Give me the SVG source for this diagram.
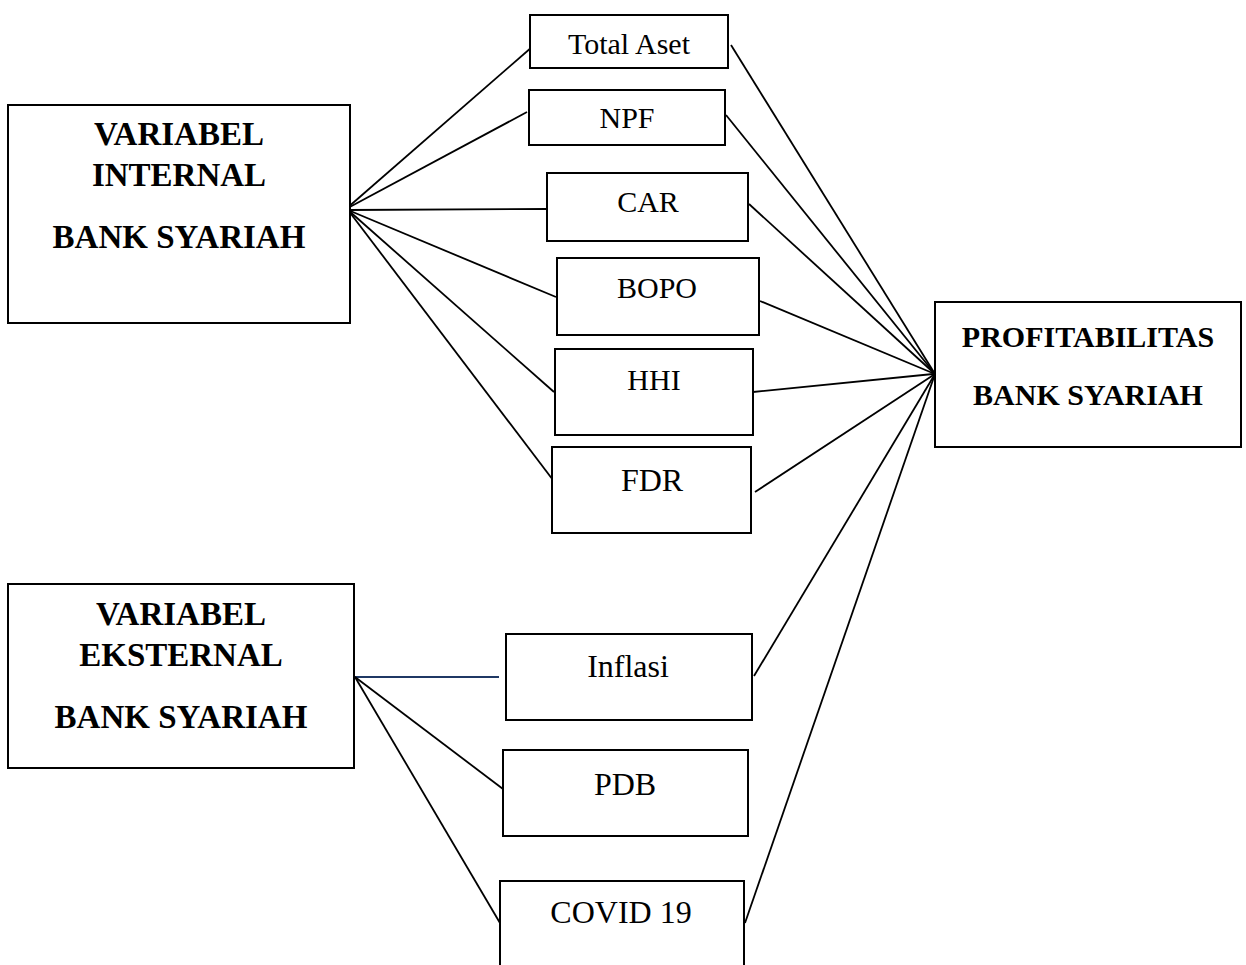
<svg xmlns="http://www.w3.org/2000/svg" width="1246" height="965" viewBox="0 0 1246 965">
<style>
.box{fill:#fff;stroke:#000;stroke-width:2}
.t{font-family:"Liberation Serif","Times New Roman",serif;fill:#000;text-anchor:middle}
.b{font-weight:bold}
.c{stroke:#000;stroke-width:1.8;fill:none}
</style>
<rect width="1246" height="965" fill="#fff"/>
<g id="connectors">
<line class="c" x1="346" y1="209" x2="532" y2="47"/>
<line class="c" x1="346" y1="209" x2="527" y2="112"/>
<line class="c" x1="348" y1="210" x2="547" y2="209"/>
<line class="c" x1="348" y1="210" x2="556" y2="297"/>
<line class="c" x1="348" y1="210" x2="554" y2="392"/>
<line class="c" x1="348" y1="210" x2="556" y2="484"/>
<line class="c" x1="731" y1="45" x2="935" y2="374"/>
<line class="c" x1="726" y1="115" x2="935" y2="374"/>
<line class="c" x1="749" y1="204" x2="935" y2="374"/>
<line class="c" x1="760" y1="301" x2="935" y2="374"/>
<line class="c" x1="753" y1="392" x2="943" y2="373"/>
<line class="c" x1="755" y1="492" x2="935" y2="374"/>
<line class="c" x1="754" y1="676" x2="935" y2="374"/>
<line class="c" x1="745" y1="923" x2="935" y2="374"/>
<line x1="355" y1="677" x2="499" y2="677" stroke="#1f3864" stroke-width="2"/>
<line class="c" x1="355" y1="677" x2="503" y2="789"/>
<line class="c" x1="355" y1="677" x2="500" y2="923"/>
</g>
<g id="internal">
<rect class="box" x="8" y="105" width="342" height="218"/>
<text class="t b" x="179" y="145" font-size="33">VARIABEL</text>
<text class="t b" x="179" y="186" font-size="33">INTERNAL</text>
<text class="t b" x="179" y="248" font-size="33">BANK SYARIAH</text>
</g>
<g id="external">
<rect class="box" x="8" y="584" width="346" height="184"/>
<text class="t b" x="181" y="625" font-size="33">VARIABEL</text>
<text class="t b" x="181" y="666" font-size="33">EKSTERNAL</text>
<text class="t b" x="181" y="728" font-size="33">BANK SYARIAH</text>
</g>
<g id="profit">
<rect class="box" x="935" y="302" width="306" height="145"/>
<text class="t b" x="1088" y="347" font-size="30">PROFITABILITAS</text>
<text class="t b" x="1088" y="405" font-size="30">BANK SYARIAH</text>
</g>
<g id="totalaset">
<rect class="box" x="530" y="15" width="198" height="53"/>
<text class="t" x="629" y="54" font-size="30">Total Aset</text>
</g>
<g id="npf">
<rect class="box" x="529" y="90" width="196" height="55"/>
<text class="t" x="627" y="128" font-size="30">NPF</text>
</g>
<g id="car">
<rect class="box" x="547" y="173" width="201" height="68"/>
<text class="t" x="648" y="212" font-size="30">CAR</text>
</g>
<g id="bopo">
<rect class="box" x="557" y="258" width="202" height="77"/>
<text class="t" x="657" y="298" font-size="30">BOPO</text>
</g>
<g id="hhi">
<rect class="box" x="555" y="349" width="198" height="86"/>
<text class="t" x="654" y="390" font-size="30">HHI</text>
</g>
<g id="fdr">
<rect class="box" x="552" y="447" width="199" height="86"/>
<text class="t" x="652" y="491" font-size="32">FDR</text>
</g>
<g id="inflasi">
<rect class="box" x="506" y="634" width="246" height="86"/>
<text class="t" x="628" y="677" font-size="32">Inflasi</text>
</g>
<g id="pdb">
<rect class="box" x="503" y="750" width="245" height="86"/>
<text class="t" x="625" y="795" font-size="32">PDB</text>
</g>
<g id="covid">
<rect class="box" x="500" y="881" width="244" height="100"/>
<text class="t" x="621" y="923" font-size="32">COVID 19</text>
</g>
</svg>
